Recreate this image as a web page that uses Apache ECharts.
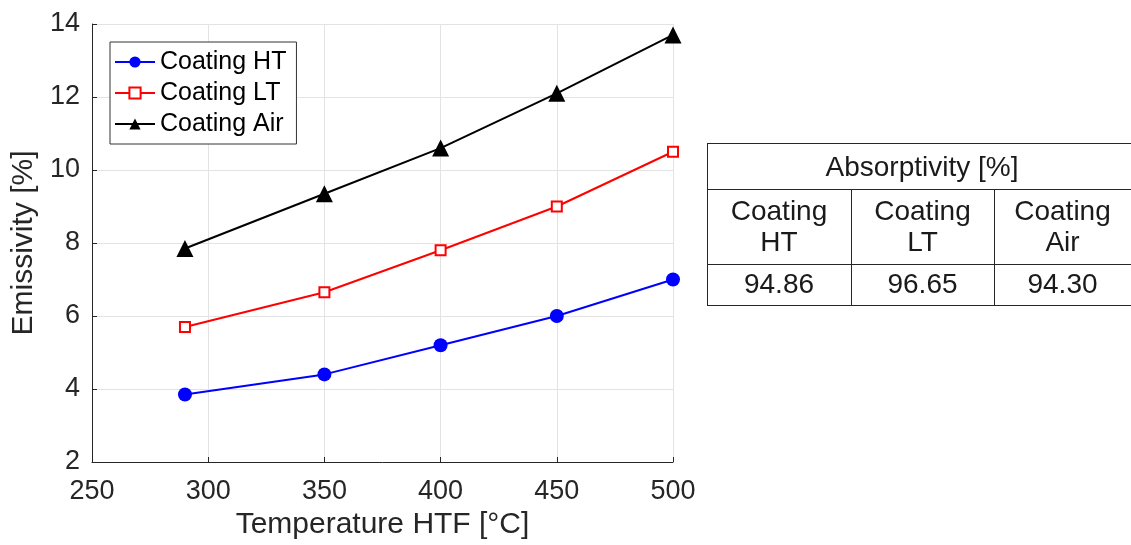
<!DOCTYPE html>
<html>
<head>
<meta charset="utf-8">
<script src="https://cdn.jsdelivr.net/npm/echarts@6/dist/echarts.min.js"></script>
<style>html,body{margin:0;padding:0;background:#fff}#c{width:1131px;height:545px}</style>
</head>
<body>
<div id="c"></div>
<script>
const temps = [290, 350, 400, 450, 500];
const coatingHT = [3.85, 4.4, 5.2, 6.0, 7.0];
const coatingLT = [5.7, 6.65, 7.8, 9.0, 10.5];
const coatingAir = [7.85, 9.35, 10.6, 12.1, 13.7];
const seriesNames = ['Coating HT', 'Coating LT', 'Coating Air'];
const tableTitle = 'Absorptivity [%]';
const tableHeaders = ['Coating\nHT', 'Coating\nLT', 'Coating\nAir'];
const tableValues = ['94.86', '96.65', '94.30'];

const FONT = 'Liberation Sans, Arial, Helvetica, sans-serif';
const chart = echarts.init(document.getElementById('c'));
const pair = arr => temps.map((t, i) => [t, arr[i]]);

// table layout
const tL = 707, tR = 1131, tTop = 143, r1 = 189, r2 = 264, tBot = 305;
const cols = [707, 851, 994, 1137];
const lineStyle = {stroke: '#262626', lineWidth: 1};
const graphics = [];
const hl = (y, x1, x2) => graphics.push({type: 'line', shape: {x1, y1: y, x2, y2: y}, style: lineStyle});
const vl = (x, y1, y2) => graphics.push({type: 'line', shape: {x1: x, y1, x2: x, y2}, style: lineStyle});
hl(tTop + 0.5, tL, tR); hl(r1 + 0.5, tL, tR); hl(r2 + 0.5, tL, tR); hl(tBot + 0.5, tL, tR);
vl(tL + 0.5, tTop, tBot); vl(cols[1] + 0.5, r1, tBot); vl(cols[2] + 0.5, r1, tBot);
const TF = '28px ' + FONT;
graphics.push({type: 'text', x: 922, y: (tTop + r1) / 2 + 2,
  style: {text: tableTitle, font: TF, fill: '#1a1a1a', align: 'center', verticalAlign: 'middle'}});
for (let i = 0; i < 3; i++) {
  const cx = (cols[i] + cols[i + 1]) / 2 - (i === 2 ? 3 : 0);
  graphics.push({type: 'text', x: cx, y: (r1 + r2) / 2 + 1,
    style: {text: tableHeaders[i], font: TF, fill: '#1a1a1a', align: 'center', verticalAlign: 'middle', lineHeight: 31}});
  graphics.push({type: 'text', x: cx, y: (r2 + tBot) / 2 + 1,
    style: {text: tableValues[i], font: TF, fill: '#1a1a1a', align: 'center', verticalAlign: 'middle'}});
}

chart.setOption({
  animation: false,
  textStyle: {fontFamily: FONT},
  grid: {left: 92, right: 458, top: 24, bottom: 81, containLabel: false},
  legend: {
    left: 110, top: 42, orient: 'vertical',
    backgroundColor: '#fff', borderColor: '#333', borderWidth: 1,
    padding: [6, 10, 6, 4], itemGap: 3, itemWidth: 40, itemHeight: 14,
    textStyle: {fontSize: 25, color: '#000', fontFamily: FONT, padding: [0, 0, 0, 0], lineHeight: 28},
    data: seriesNames
  },
  xAxis: {
    type: 'value', min: 250, max: 500, interval: 50,
    name: 'Temperature HTF [°C]', nameLocation: 'middle', nameGap: 48,
    nameTextStyle: {fontSize: 30, color: '#262626'},
    axisLine: {show: true, lineStyle: {color: '#262626', width: 1}},
    axisTick: {show: true, inside: true, length: 5, lineStyle: {color: '#262626'}},
    axisLabel: {fontSize: 27, color: '#262626', margin: 16},
    splitLine: {show: true, lineStyle: {color: '#e3e3e3', width: 1}}
  },
  yAxis: {
    type: 'value', min: 2, max: 14, interval: 2,
    name: 'Emissivity [%]', nameLocation: 'middle', nameGap: 53, nameRotate: 90,
    nameTextStyle: {fontSize: 30, color: '#262626'},
    axisLine: {show: true, lineStyle: {color: '#262626', width: 1}},
    axisTick: {show: true, inside: true, length: 5, lineStyle: {color: '#262626'}},
    axisLabel: {fontSize: 27, color: '#262626', margin: 12},
    splitLine: {show: true, lineStyle: {color: '#e3e3e3', width: 1}}
  },
  series: [
    {name: seriesNames[0], type: 'line', data: pair(coatingHT), symbol: 'circle', symbolSize: 14,
      lineStyle: {color: '#0000ff', width: 2}, itemStyle: {color: '#0000ff'}},
    {name: seriesNames[1], type: 'line', data: pair(coatingLT), symbol: 'rect', symbolSize: 10,
      lineStyle: {color: '#ff0000', width: 2}, itemStyle: {color: '#fff', borderColor: '#ff0000', borderWidth: 2}},
    {name: seriesNames[2], type: 'line', data: pair(coatingAir), symbol: 'triangle', symbolSize: 17,
      lineStyle: {color: '#000', width: 2}, itemStyle: {color: '#000'}}
  ],
  graphic: graphics
});
</script>
</body>
</html>
